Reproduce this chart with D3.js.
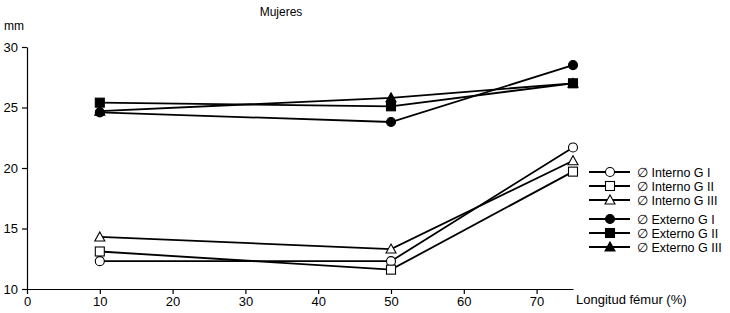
<!DOCTYPE html>
<html>
<head>
<meta charset="utf-8">
<script src="https://cdn.jsdelivr.net/npm/d3@7"></script>
<style>
body { margin: 0; background: #fff; }
text { font-family: "Liberation Sans", Arial, sans-serif; fill: #000; }
</style>
</head>
<body>
<div id="chart"></div>
<script>
'use strict';

// data
const positions = [10, 50, 75];
const xTicks = [0, 10, 20, 30, 40, 50, 60, 70];
const yTicks = [10, 15, 20, 25, 30];

const internoGI = [12.3, 12.3, 21.7];
const internoGII = [13.1, 11.6, 19.7];
const internoGIII = [14.3, 13.3, 20.6];
const externoGI = [24.6, 23.8, 28.5];
const externoGII = [25.4, 25.1, 27.0];
const externoGIII = [24.7, 25.8, 27.0];

const seriesNames = ["\u2205 Interno G I", "\u2205 Interno G II", "\u2205 Interno G III",
	"\u2205 Externo G I", "\u2205 Externo G II", "\u2205 Externo G III"];
const seriesValues = [internoGI, internoGII, internoGIII, externoGI, externoGII, externoGIII];
const seriesShapes = ["circle", "square", "triangle", "circle", "square", "triangle"];
const seriesFilled = [false, false, false, true, true, true];

const width = 730, height = 313;
const margin = { top: 47, right: 157, bottom: 24, left: 27 };

const svg = d3.select("#chart").append("svg")
	.attr("width", width)
	.attr("height", height);

const x = d3.scaleLinear()
	.domain([0, 75])
	.range([margin.left, width - margin.right]);

const y = d3.scaleLinear()
	.domain([10, 30])
	.range([height - margin.bottom, margin.top]);

// axes
const xAxis = g => g
	.attr("transform", `translate(0,${y(10)})`)
	.call(d3.axisBottom(x).tickValues(xTicks).tickSize(5).tickSizeOuter(0).tickPadding(3))
	.call(g => g.selectAll("text").attr("font-size", 13));

const yAxis = g => g
	.attr("transform", `translate(${x(0)},0)`)
	.call(d3.axisLeft(y).tickValues(yTicks).tickSize(5).tickSizeOuter(0).tickPadding(4))
	.call(g => g.selectAll("text").attr("font-size", 13));

svg.append("g").attr("class", "x-axis").call(xAxis);
svg.append("g").attr("class", "y-axis").call(yAxis);
svg.selectAll(".domain, .tick line").attr("stroke", "#000").attr("stroke-width", 1.2);

svg.append("text")
	.attr("x", 281).attr("y", 16)
	.attr("text-anchor", "middle")
	.attr("font-size", 12)
	.text("Mujeres");

svg.append("text")
	.attr("x", 4).attr("y", 30)
	.attr("font-size", 12)
	.text("mm");

svg.append("text")
	.attr("x", 576).attr("y", 304)
	.attr("font-size", 13)
	.text("Longitud f\u00e9mur (%)");

function drawMarker(g, shape, filled, cx, cy)
{
	const fill = filled ? "#000" : "#fff";
	if (shape === "circle") {
		g.append("circle")
			.attr("cx", cx).attr("cy", cy).attr("r", 4.5)
			.attr("fill", fill).attr("stroke", "#000").attr("stroke-width", 1.1);
	}
	else if (shape === "square") {
		g.append("rect")
			.attr("x", cx - 4.5).attr("y", cy - 4.5)
			.attr("width", 9).attr("height", 9)
			.attr("fill", fill).attr("stroke", "#000").attr("stroke-width", 1.1);
	}
	else {
		g.append("path")
			.attr("d", `M${cx},${cy - 5}L${cx + 5},${cy + 4}L${cx - 5},${cy + 4}Z`)
			.attr("fill", fill).attr("stroke", "#000").attr("stroke-width", 1.1);
	}
}

const line = d3.line()
	.x((d, i) => x(positions[i]))
	.y(d => y(d));

const plot = svg.append("g").attr("class", "series");

seriesValues.forEach(function(vals, s) {
	plot.append("path")
		.attr("d", line(vals))
		.attr("fill", "none")
		.attr("stroke", "#000")
		.attr("stroke-width", 1.8);
});

seriesValues.forEach(function(vals, s) {
	vals.forEach(function(v, i) {
		drawMarker(plot, seriesShapes[s], seriesFilled[s], x(positions[i]), y(v));
	});
});

// legend
const legendRows = [172, 186, 200, 219, 233, 247];
const legend = svg.append("g").attr("class", "legend");

seriesNames.forEach(function(name, s) {
	const ly = legendRows[s];
	legend.append("line")
		.attr("x1", 589).attr("x2", 630)
		.attr("y1", ly).attr("y2", ly)
		.attr("stroke", "#000").attr("stroke-width", 1.8);
	drawMarker(legend, seriesShapes[s], seriesFilled[s], 610, ly);
	legend.append("text")
		.attr("x", 637).attr("y", ly + 5)
		.attr("font-size", 12.5)
		.text(name);
});
</script>
</body>
</html>
